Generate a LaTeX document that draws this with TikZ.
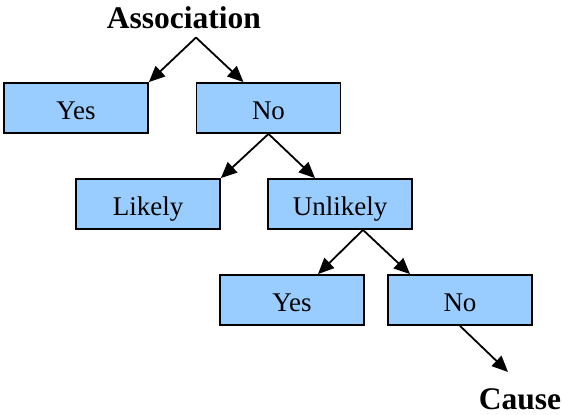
\documentclass[tikz,border=0pt]{standalone}
\usepackage{fontspec}
\setmainfont{Liberation Serif}
\usetikzlibrary{arrows.meta}
\definecolor{boxblue}{HTML}{99CCFF}
\begin{document}
\begin{tikzpicture}[x=1pt,y=-1pt,
    choicebox/.style={draw=black, line width=1.8pt, fill=boxblue, minimum width=144pt, minimum height=50pt,
        inner sep=0pt, text height=22pt, text depth=0pt, font=\fontsize{27}{31}\selectfont},
    endlabel/.style={inner sep=0pt, anchor=base, font=\fontsize{31.5}{36}\selectfont\bfseries},
    branch/.style={line width=1.8pt, -{Triangle[length=16pt,width=14pt]}}]
    \useasboundingbox (0,0) rectangle (563,415);
    % Start and end labels
    \node[endlabel] (assoc) at (184,28) {Association};
    \node[endlabel] (cause) at (520,409) {Cause};
    % Decision boxes
    \foreach \name/\x/\y/\txt in {yes1/76/108/Yes, no1/268.5/108/No, likely/148/204/Likely,
        unlikely/340/204/Unlikely, yes2/292/300/Yes, no2/460/300/No}
        \node[choicebox] (\name) at (\x,\y) {\txt};
    % Branches
    \draw[branch] ([xshift=12pt,yshift=-9pt]assoc.south) -- (yes1.north east);
    \draw[branch] ([xshift=12pt,yshift=-9pt]assoc.south) -- ([xshift=-25pt]no1.north);
    \draw[branch] (no1.south) -- (likely.north east);
    \draw[branch] (no1.south) -- ([xshift=-25pt]unlikely.north);
    \draw[branch] ([xshift=23pt]unlikely.south) -- ([xshift=26pt]yes2.north);
    \draw[branch] ([xshift=23pt]unlikely.south) -- ([xshift=-50pt]no2.north);
    \draw[branch] (no2.south) -- ([xshift=-12pt,yshift=16pt]cause.north);
\end{tikzpicture}
\end{document}
